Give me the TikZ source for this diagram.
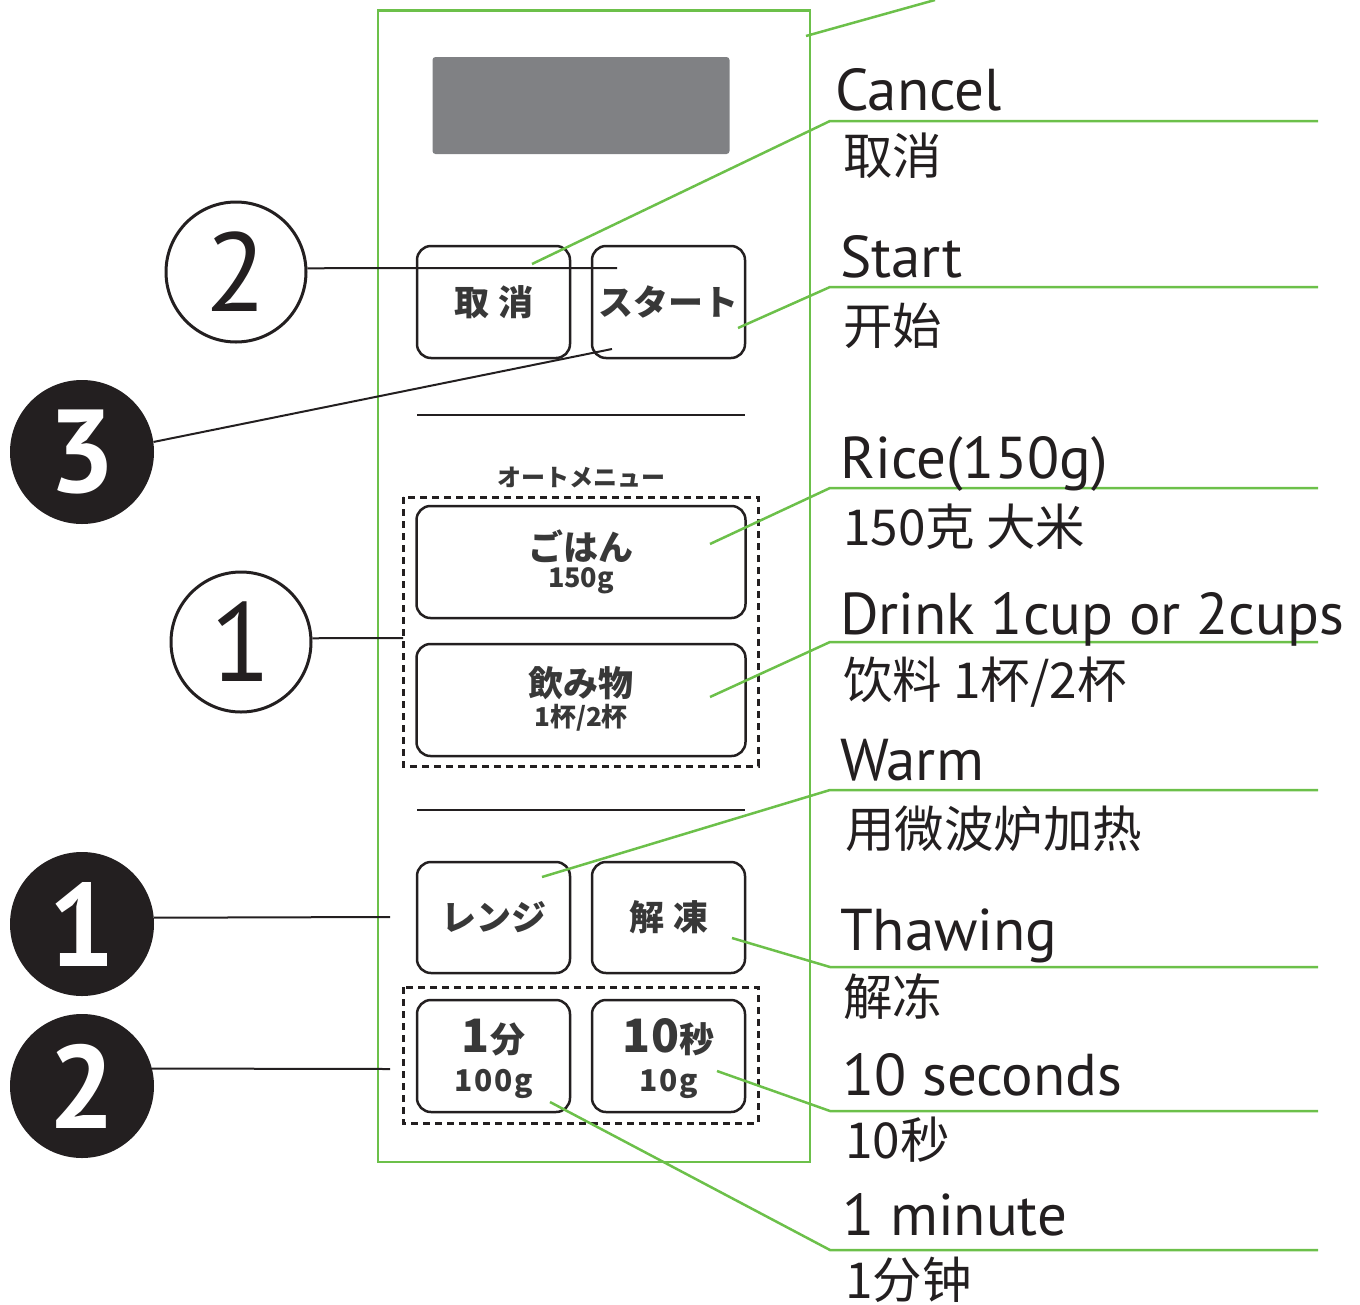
\documentclass[tikz,border=0pt]{standalone}
\usepackage{fontspec}
\setmainfont{PT Sans}
\newfontfamily\cjk{Noto Sans CJK SC}
\newfontfamily\jp{Noto Sans CJK JP}
\usetikzlibrary{calc}
\definecolor{grn}{HTML}{6CC04A}
\definecolor{ink}{HTML}{231F20}
\definecolor{lcd}{HTML}{808184}
\definecolor{btxt}{HTML}{383838}
\begin{document}
\begin{tikzpicture}[x=1pt,y=-1pt,
  panel/.style={draw=grn,line width=2.5pt},
  btn/.style={draw=ink,line width=2.5pt,rounded corners=14pt,inner sep=0pt,text=btxt,font=\jp\bfseries\fontsize{35}{38}\selectfont},
  lead/.style={draw=grn,line width=2.5pt},
  cline/.style={draw=ink,line width=2pt},
  dbox/.style={draw=ink,line width=3pt,dash pattern=on 7pt off 5pt},
  en/.style={anchor=base west,inner sep=0pt,text=ink,font=\fontsize{59}{60}\selectfont},
  zh/.style={anchor=west,inner sep=0pt,text=ink,font=\cjk\fontsize{49.5}{51}\selectfont},
  bt/.style={inner sep=0pt,text=btxt,font=\jp\bfseries\fontsize{35}{38}\selectfont},
  bs/.style={inner sep=0pt,text=btxt,font=\jp\bfseries\fontsize{27}{30}\selectfont},
  ocirc/.style={circle,draw=ink,line width=3pt,minimum size=140pt,inner sep=0pt,text=ink,font=\fontsize{112}{112}\selectfont},
  fcirc/.style={circle,fill=ink,minimum size=144pt,inner sep=0pt,text=white,font=\bfseries\fontsize{118}{118}\selectfont}
]
\path[use as bounding box] (0,0) rectangle (1360,1304);

% panel and display
\draw[panel] (378,10.5) rectangle (810,1162);
\node[fill=lcd,rounded corners=3pt,minimum width=297pt,minimum height=97pt,inner sep=0pt] (lcdbox) at (581,105.5) {};

% buttons
\node[btn,minimum width=153pt,minimum height=112pt] (bCancel) at (493.5,302) {取\hspace{9pt}消};
\node[btn,minimum width=153pt,minimum height=112pt] (bStart) at (668.5,302) {スタート};
\draw[cline] (417,415) -- (745,415);
\node[inner sep=0pt,text=btxt,font=\jp\fontsize{24}{26}\selectfont\bfseries] (automenu) at (581,477) {オートメニュー};
\draw[dbox] (403,497) rectangle (758,766);
\node[btn,minimum width=329pt,minimum height=112pt] (bRice) at (581,562) {};
\node[bt] (tRice) at (581,546) {ごはん};
\node[bs] (tRice2) at (581,581) {150g};
\node[btn,minimum width=329pt,minimum height=112pt] (bDrink) at (581,700) {};
\node[bt] (tDrink) at (581,683) {飲み物};
\node[bs,font=\jp\bfseries\fontsize{26}{28}\selectfont] (tDrink2) at (581,718) {1杯/2杯};
\draw[cline] (417,810) -- (745,810);
\node[btn,minimum width=153pt,minimum height=111pt] (bWarm) at (493.5,917.5) {レンジ};
\node[btn,minimum width=153pt,minimum height=111pt] (bThaw) at (668.5,917.5) {解\hspace{9pt}凍};
\draw[dbox] (403,987) rectangle (758,1123);
\node[btn,minimum width=153pt,minimum height=112pt] (bMin) at (493.5,1056) {};
\node[btn,minimum width=153pt,minimum height=112pt] (bSec) at (668.5,1056) {};
\node[bt,anchor=base] (tMin) at (493.5,1052) {{\fontsize{46}{46}\selectfont 1}分};
\node[bs,anchor=base,font=\jp\bfseries\addfontfeature{LetterSpace=6}\fontsize{30}{30}\selectfont] (tMin2) at (494,1091) {100g};
\node[bt,anchor=base] (tSec) at (668.5,1052) {{\fontsize{46}{46}\selectfont 10}秒};
\node[bs,anchor=base,font=\jp\bfseries\addfontfeature{LetterSpace=6}\fontsize{30}{30}\selectfont] (tSec2) at (669,1091) {10g};

% numbered callouts
\node[ocirc] (c2) at (236,272) {2};
\node[fcirc] (d3) at (82,452) {3};
\node[ocirc] (c1) at (241,642) {1};
\node[fcirc] (d1) at (82,924) {1};
\node[fcirc] (d2) at (82,1086) {2};
\coordinate (p2) at (617,268);
\coordinate (p3) at (612,349);
\coordinate (p1) at (403,638);
\coordinate (q1) at (390,917);
\coordinate (q2) at (390,1069);
\draw[cline] (c2.3) -- (p2);
\draw[cline] (d3.8) -- (p3);
\draw[cline] (c1.3) -- (p1);
\draw[cline] (d1.5) -- (q1);
\draw[cline] (d2.14) -- (q2);

% green leader lines
\coordinate (gT0) at (806,36);  \coordinate (gT1) at (935,0);
\draw[lead] (gT0) -- (gT1);
\coordinate (sCan) at (532,264);  \coordinate (kCan) at (830,121);  \coordinate (eCan) at (1318,121);
\coordinate (sSta) at (738,328);  \coordinate (kSta) at (830,287);  \coordinate (eSta) at (1318,287);
\coordinate (sRic) at (710,544);  \coordinate (kRic) at (830,488);  \coordinate (eRic) at (1318,488);
\coordinate (sDri) at (710,697);  \coordinate (kDri) at (830,642);  \coordinate (eDri) at (1318,642);
\coordinate (sWar) at (542,877);  \coordinate (kWar) at (830,790);  \coordinate (eWar) at (1318,790);
\coordinate (sTha) at (732,938);  \coordinate (kTha) at (830,967);  \coordinate (eTha) at (1318,967);
\coordinate (sSec) at (717,1071); \coordinate (kSec) at (830,1111); \coordinate (eSec) at (1318,1111);
\coordinate (sMin) at (550,1102); \coordinate (kMin) at (830,1250); \coordinate (eMin) at (1318,1250);
\draw[lead] (sCan) -- (kCan) -- (eCan);
\draw[lead] (sSta) -- (kSta) -- (eSta);
\draw[lead] (sRic) -- (kRic) -- (eRic);
\draw[lead] (sDri) -- (kDri) -- (eDri);
\draw[lead] (sWar) -- (kWar) -- (eWar);
\draw[lead] (sTha) -- (kTha) -- (eTha);
\draw[lead] (sSec) -- (kSec) -- (eSec);
\draw[lead] (sMin) -- (kMin) -- (eMin);

% labels
\node[en] (lCan) at (835,110) {Cancel};
\node[zh] (zCan) at (843,156) {取消};
\node[en] (lSta) at (840,277) {Start};
\node[zh] (zSta) at (843,326) {开始};
\node[en] (lRic) at (840,478) {Rice(150g)};
\node[zh] (zRic) at (843,527) {150克 大米};
\node[en] (lDri) at (840,634) {Drink 1cup or 2cups};
\node[zh] (zDri) at (843,682) {饮料 1杯/2杯};
\node[en] (lWar) at (840,780) {Warm};
\node[zh] (zWar) at (845,829) {用微波炉加热};
\node[en] (lTha) at (840,950) {Thawing};
\node[zh] (zTha) at (843,997) {解冻};
\node[en] (lSec) at (842,1095) {10 seconds};
\node[zh] (zSec) at (845,1140) {10秒};
\node[en] (lMin) at (842,1235) {1 minute};
\node[zh] (zMin) at (845,1280) {1分钟};
\end{tikzpicture}
\end{document}
